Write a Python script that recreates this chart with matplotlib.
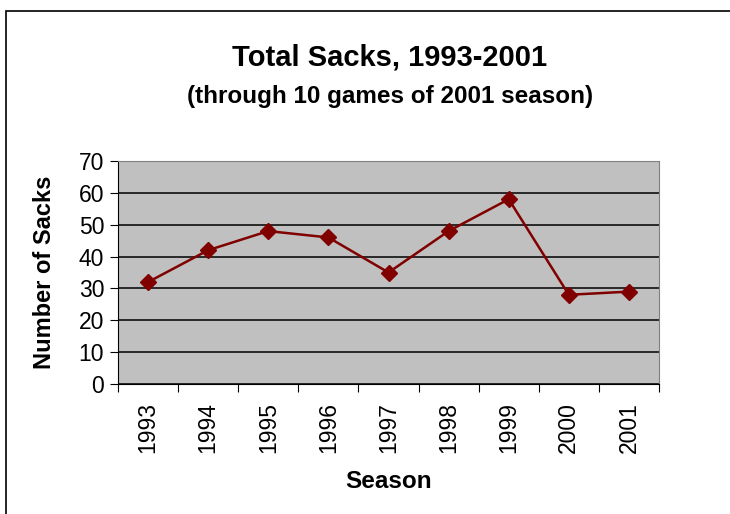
import matplotlib.pyplot as plt
from matplotlib.patches import Rectangle

plt.rcParams['font.family'] = ['Liberation Sans', 'DejaVu Sans']

seasons = ['1993', '1994', '1995', '1996', '1997', '1998', '1999', '2000', '2001']
sacks = [32, 42, 48, 46, 35, 48, 58, 28, 29]

fig = plt.figure(figsize=(7.3, 5.14), dpi=100)
W, H = 730, 514

# outer chart frame (runs off the right/bottom edge)
fig.patches.append(Rectangle((6 / W, -0.1), 1.2, (H - 11) / H + 0.1,
                             transform=fig.transFigure, fill=False,
                             edgecolor='black', linewidth=1.2))

ax = fig.add_axes([118 / W, 1 - 384 / H, (659 - 118) / W, (384 - 161) / H])
ax.set_facecolor('#C0C0C0')

x = range(len(seasons))
ax.plot(x, sacks, color='#800000', linewidth=1.8, marker='D', markersize=8)

ax.set_xlim(-0.5, len(seasons) - 0.5)
ax.set_ylim(0, 70)
ax.set_yticks(range(0, 71, 10))
ax.yaxis.grid(True, color='black', linewidth=1.1)
ax.set_axisbelow(True)

ax.set_xticks([i - 0.5 for i in range(len(seasons) + 1)])
ax.set_xticklabels([])
ax.set_xticks(list(x), minor=True)
ax.set_xticklabels(seasons, minor=True, rotation=90, fontsize=16.5)
ax.tick_params(axis='x', which='minor', length=0, pad=13)
ax.tick_params(axis='x', which='major', length=6, direction='out')
ax.tick_params(axis='y', length=6, direction='out', labelsize=16.5, pad=4)

for s in ['top', 'right']:
    ax.spines[s].set_color('#808080')
for s in ['left', 'bottom']:
    ax.spines[s].set_color('black')

ax.set_ylabel('Number of Sacks', fontsize=17, fontweight='bold', labelpad=16)
ax.set_xlabel('Season', fontsize=17.5, fontweight='bold', labelpad=12)

fig.text(390 / W, 1 - 58 / H, 'Total Sacks, 1993-2001', ha='center', va='center',
         fontsize=21, fontweight='bold')
fig.text(390 / W, 1 - 96 / H, '(through 10 games of 2001 season)', ha='center',
         va='center', fontsize=17.5, fontweight='bold')

fig.savefig('out.png', dpi=100)
